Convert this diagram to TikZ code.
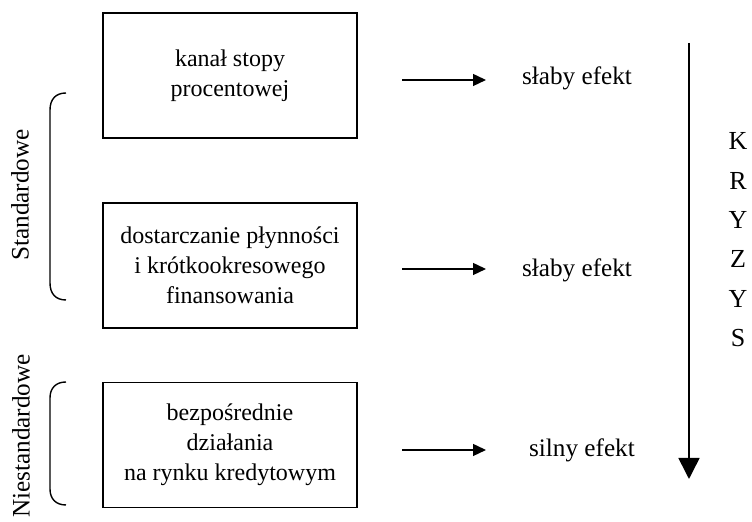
\documentclass[tikz,border=0pt]{standalone}
\usepackage{fontspec}
\setmainfont{Liberation Serif}
\usetikzlibrary{arrows.meta}
\begin{document}
\begin{tikzpicture}[x=0.5pt,y=-0.5pt,
  txt/.style={font=\fontsize{12}{15}\selectfont},
  bigtxt/.style={font=\fontsize{12.6}{15}\selectfont},
  channel/.style={txt,draw,line width=0.75pt,align=center,
    minimum width=127pt,minimum height=62.5pt,inner sep=0pt},
  effect/.style={bigtxt,anchor=base},
  smallarrow/.style={line width=0.7pt,-{Triangle[length=6.5pt,width=6pt]}},
  bigarrow/.style={line width=0.8pt,-{Triangle[length=10.5pt,width=10.5pt]}},
  bracket/.style={line width=0.7pt},
  side/.style={bigtxt,rotate=90,anchor=center},
  letter/.style={font=\fontsize{13}{15}\selectfont,anchor=base}]
\useasboundingbox (0,0) rectangle (752,522);

% channels of monetary policy
\node[channel] (b1) at (230,75.5) {kanał stopy\\procentowej};
\node[channel] (b2) at (230,265.5) {dostarczanie płynności\\i krótkookresowego\\finansowania};
\node[channel] (b3) at (230,445) {bezpośrednie\\działania\\na rynku kredytowym};

% effects
\coordinate (s1) at (402,80);  \coordinate (e1) at (486,80);
\coordinate (s2) at (402,269); \coordinate (e2) at (486,269);
\coordinate (s3) at (402,450); \coordinate (e3) at (486,450);
\draw[smallarrow] (s1) -- (e1);
\draw[smallarrow] (s2) -- (e2);
\draw[smallarrow] (s3) -- (e3);
\node[effect] (t1) at (577,85) {słaby efekt};
\node[effect] (t2) at (577,277) {słaby efekt};
\node[effect] (t3) at (582,457) {silny efekt};

% crisis axis
\coordinate (ktop) at (689,43);
\coordinate (kbot) at (689,479);
\draw[bigarrow] (ktop) -- (kbot);
\foreach \ch/\yy [count=\i] in {K/150,R/190,Y/229,Z/268,Y/308,S/347}
  \node[letter] (k\i) at (738,\yy) {\ch};

% grouping brackets
\draw[bracket] (66,93) .. controls (56,93) and (50,99) .. (50,110)
  -- (50,283) .. controls (50,294) and (56,300) .. (66,300);
\draw[bracket] (66,382) .. controls (56,382) and (50,388) .. (50,398)
  -- (50,489) .. controls (50,499) and (56,505) .. (66,505);
\node[side] (std) at (20,195) {Standardowe};
\node[side] (nstd) at (21,436) {Niestandardowe};
\end{tikzpicture}
\end{document}
